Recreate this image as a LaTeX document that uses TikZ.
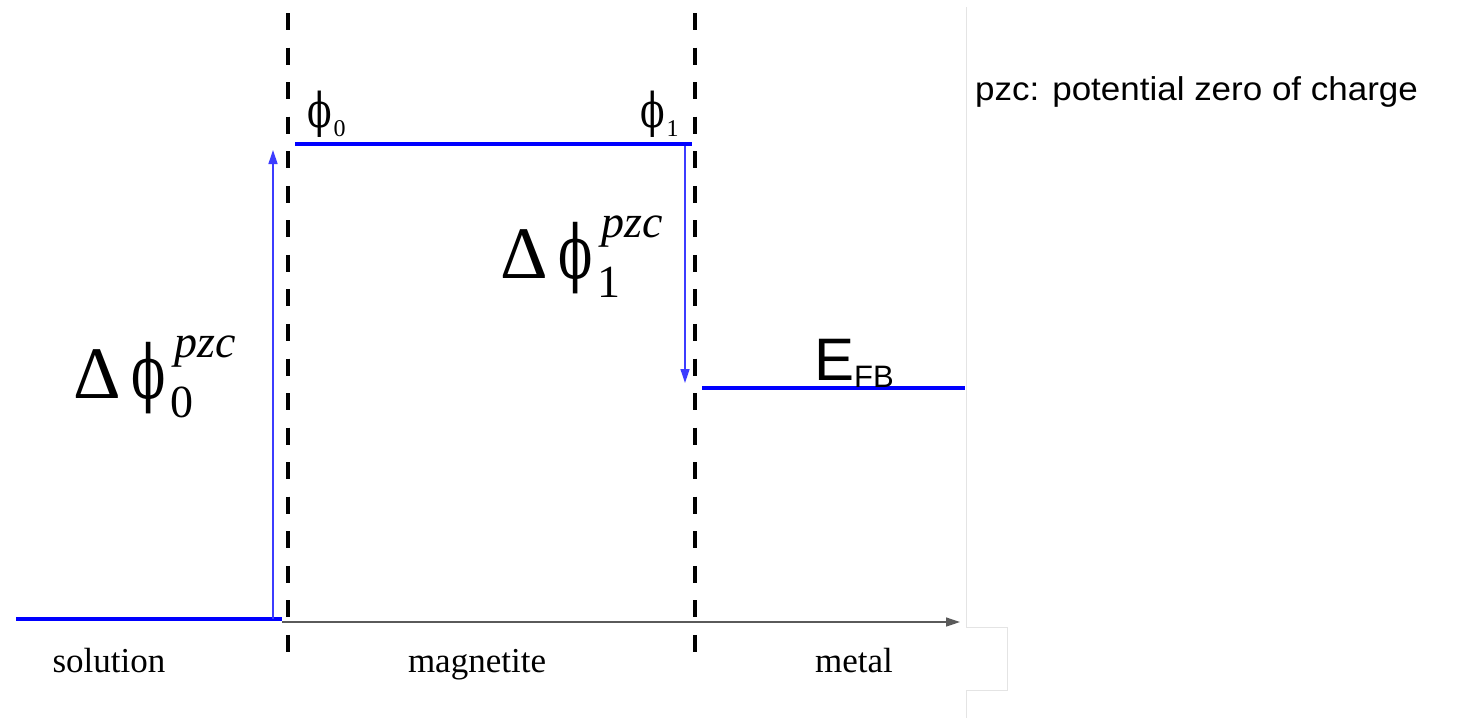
\documentclass[tikz,border=0pt]{standalone}
\usepackage{fontspec}
\setmainfont{Liberation Serif}
\newfontfamily\arialf{Liberation Sans}
\newfontfamily\phif{DejaVu Serif}
\usetikzlibrary{arrows.meta}
\definecolor{lblue}{RGB}{0,0,255}
\definecolor{tblue}{RGB}{60,60,255}
\definecolor{boxgray}{RGB}{228,228,228}
\definecolor{axgray}{RGB}{90,90,90}
\newcommand\fsz[1]{\fontsize{#1}{#1}\selectfont}
\newcommand\bigphi{{\phif\fsz{74}\scalebox{0.68}[1]{ϕ}}}
\newcommand\smallphi{{\phif\fsz{48}\scalebox{0.75}[1]{ϕ}}}
\newcommand\dphilabel[1]{\fsz{74}Δ\hspace{0.15em}\bigphi\hspace{0.06em}\rlap{\raisebox{-0.26em}{\fsz{46}#1}}\hspace{0.05em}\raisebox{0.55em}{\fsz{46}\itshape pzc}}
\newcommand\philabel[1]{\smallphi\hspace{2pt}\raisebox{-9pt}{\fsz{24}#1}}
\begin{document}
\begin{tikzpicture}[x=1pt,y=-1pt,
 interface/.style={line width=4pt, dash pattern=on 17pt off 17.55pt},
 level/.style={lblue, line width=4pt},
 jump/.style={tblue, line width=1.3pt, -{Triangle[length=14pt,width=9pt]}},
 axisline/.style={axgray, line width=1.3pt, -{Triangle[length=14pt,width=9pt]}},
 lab/.style={inner sep=0pt, anchor=base west},
 region/.style={inner sep=0pt, anchor=base, font=\fsz{35}},
]
\useasboundingbox (0,0) rectangle (1461,718);
\fill[white] (0,0) rectangle (1461,718);
% faint frame at right
\draw[boxgray, line width=1pt] (966,7) -- (966,627) -- (1007,627) -- (1007,690) -- (966,690) -- (966,718);
% coordinates
\coordinate (i0t) at (288,13);
\coordinate (i0b) at (288,652);
\coordinate (i1t) at (695,13);
\coordinate (i1b) at (695,652);
\coordinate (s0) at (16,619);
\coordinate (s1) at (282,619);
\coordinate (m0) at (295,144);
\coordinate (m1) at (692,144);
\coordinate (e0) at (702,388);
\coordinate (e1) at (965,388);
\coordinate (ax0) at (282,622);
\coordinate (ax1) at (960,622);
\coordinate (u0) at (273,619);
\coordinate (u1) at (273,150);
\coordinate (d0) at (685,146);
\coordinate (d1) at (685,383);
% interfaces
\draw[interface] (i0t) -- (i0b);
\draw[interface] (i1t) -- (i1b);
% axis
\draw[axisline] (ax0) -- (ax1);
% levels
\draw[level] (s0) -- (s1);
\draw[level] (m0) -- (m1);
\draw[level] (e0) -- (e1);
% jumps
\draw[jump] (u0) -- (u1);
\draw[jump] (d0) -- (d1);
% labels
\node[lab] (dp0) at (73,398) {\dphilabel{0}};
\node[lab] (dp1) at (500,278) {\dphilabel{1}};
\node[lab] (ph0) at (307,127) {\philabel{0}};
\node[lab] (ph1) at (640,127) {\philabel{1}};
\node[lab] (efb) at (814,380) {\arialf\fsz{60}E\raisebox{-0.12em}{\fsz{31}FB}};
\node[lab] (note) at (975,100) {\arialf\fsz{33}\scalebox{1.06}[1]{pzc: potential zero of charge}};
\node[region] (sol) at (109,672) {solution};
\node[region] (mag) at (477,672) {magnetite};
\node[region] (met) at (854,672) {metal};
\end{tikzpicture}
\end{document}
